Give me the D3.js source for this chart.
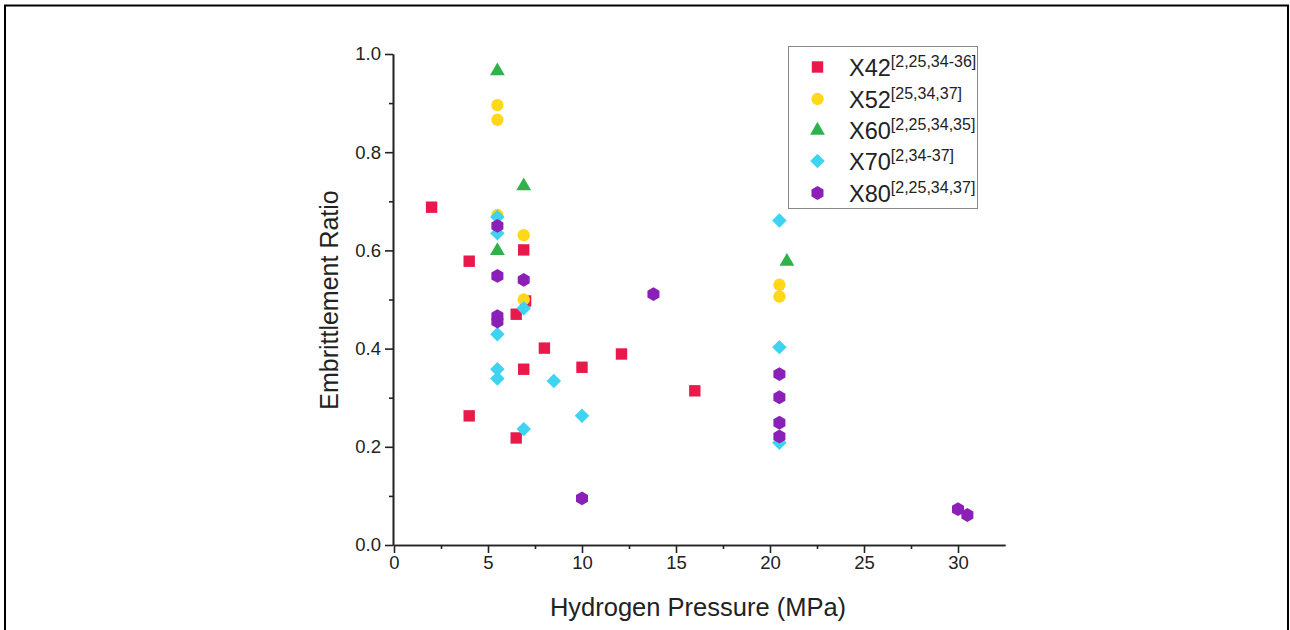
<!DOCTYPE html>
<html><head><meta charset="utf-8">
<script src="https://cdn.jsdelivr.net/npm/d3@7/dist/d3.min.js"></script>
<style>
html,body{margin:0;padding:0;background:#fff;}
svg{display:block;font-family:"Liberation Sans",Arial,sans-serif;}
</style></head>
<body>
<svg id="chart" width="1290" height="630"></svg>
<script>
// ---- data ----
const seriesNames = ["X42","X52","X60","X70","X80"];
const seriesRefs = ["[2,25,34-36]","[25,34,37]","[2,25,34,35]","[2,34-37]","[2,25,34,37]"];
const x42 = [[2.0,0.688],[4.0,0.578],[4.0,0.263],[6.9,0.601],[7.0,0.497],[6.5,0.470],[8.0,0.401],[6.9,0.358],[6.5,0.218],[10.0,0.362],[12.1,0.389],[16.0,0.314]];
const x52 = [[5.5,0.896],[5.5,0.866],[5.5,0.672],[6.9,0.631],[6.9,0.500],[20.5,0.530],[20.5,0.506]];
const x60 = [[5.5,0.967],[6.9,0.733],[5.5,0.601],[20.9,0.579]];
const x70 = [[5.5,0.668],[5.5,0.635],[6.9,0.482],[5.5,0.429],[5.5,0.358],[5.5,0.339],[8.5,0.334],[6.9,0.236],[10.0,0.263],[20.5,0.661],[20.5,0.403],[20.5,0.208]];
const x80 = [[5.5,0.650],[5.5,0.548],[6.9,0.540],[5.5,0.466],[5.5,0.455],[10.0,0.095],[13.8,0.511],[20.5,0.348],[20.5,0.301],[20.5,0.249],[20.5,0.221],[30.0,0.073],[30.5,0.061]];
const xTicks = [0,5,10,15,20,25,30];
const yTicks = [0.0,0.2,0.4,0.6,0.8,1.0];
const xTitle = "Hydrogen Pressure (MPa)";
const yTitle = "Embrittlement Ratio";

const seriesData = [x42,x52,x60,x70,x80];
const colors = ["#E8194B","#FFD81A","#2FB24C","#3DD3F1","#8B20B8"];

const svg = d3.select("#chart");
// outer frame
svg.append("rect").attr("x",5).attr("y",5.5).attr("width",1283).attr("height",640)
  .attr("fill","none").attr("stroke","#000").attr("stroke-width",2);

const x = d3.scaleLinear().domain([0,32.5]).range([394,1005]);
const y = d3.scaleLinear().domain([0,1]).range([545,54]);

const textColor = "#222";

// axes
const xAxis = d3.axisBottom(x).tickValues(xTicks).tickFormat(d3.format("d")).tickSize(8).tickSizeOuter(0).tickPadding(3);
const xMinor = d3.axisBottom(x).tickValues(d3.range(2.5,32.5,5)).tickFormat("").tickSize(4).tickSizeOuter(0);
const yAxis = d3.axisLeft(y).tickValues(yTicks).tickFormat(d3.format(".1f")).tickSize(8).tickSizeOuter(0).tickPadding(4);
const yMinor = d3.axisLeft(y).tickValues(d3.range(0.1,1.0,0.2)).tickFormat("").tickSize(4).tickSizeOuter(0);

function styleAxis(g){
  g.select(".domain").attr("stroke","#222").attr("stroke-width",1.6);
  g.selectAll(".tick line").attr("stroke","#222").attr("stroke-width",1.6);
  g.selectAll(".tick text").attr("fill",textColor).style("font-size","18.5px").style("font-family","'Liberation Sans',Arial,sans-serif");
}
svg.append("g").attr("transform","translate(0,545)").call(xMinor).call(styleAxis);
svg.append("g").attr("transform","translate(0,545)").call(xAxis).call(styleAxis);
svg.append("g").attr("transform","translate(393,0)").call(yMinor).call(styleAxis);
svg.append("g").attr("transform","translate(393,0)").call(yAxis).call(styleAxis);

svg.append("text").attr("x",698).attr("y",616).attr("text-anchor","middle")
  .attr("fill",textColor).style("font-size","25.5px").text(xTitle);
svg.append("text").attr("transform","translate(338,300) rotate(-90)").attr("text-anchor","middle")
  .attr("fill",textColor).style("font-size","25px").text(yTitle);

// marker shapes
const hexagon = {draw(ctx,size){const r=Math.sqrt(size/(1.5*Math.sqrt(3)));for(let i=0;i<6;i++){const a=Math.PI/2+i*Math.PI/3;const px=r*Math.cos(a),py=r*Math.sin(a);if(i===0)ctx.moveTo(px,py);else ctx.lineTo(px,py);}ctx.closePath();}};
const triUp = {draw(ctx,size){const s=Math.sqrt(size/(Math.sqrt(3)/4));const h=s*Math.sqrt(3)/2;ctx.moveTo(0,-h*0.6);ctx.lineTo(s/2,h*0.4);ctx.lineTo(-s/2,h*0.4);ctx.closePath();}};
const diamond = {draw(ctx,size){const r=Math.sqrt(size)/Math.SQRT2;ctx.moveTo(0,-r);ctx.lineTo(r,0);ctx.lineTo(0,r);ctx.lineTo(-r,0);ctx.closePath();}};
const shapes = [d3.symbolSquare,d3.symbolCircle,triUp,diamond,hexagon];
const sizes = [130,120,95,105,125];

seriesData.forEach((data,i)=>{
  const sym = d3.symbol().type(shapes[i]).size(sizes[i]);
  svg.append("g").selectAll("path").data(data).join("path")
    .attr("d",sym)
    .attr("transform",d=>`translate(${x(d[0])},${y(d[1])})`)
    .attr("fill",colors[i]);
});

// legend
const lg = svg.append("g");
lg.append("rect").attr("x",788.5).attr("y",46.5).attr("width",189).attr("height",162)
  .attr("fill","#fff").attr("stroke","#888").attr("stroke-width",1);
const rowY = [67,99,129.5,161,193];
seriesNames.forEach((n,i)=>{
  const sym = d3.symbol().type(shapes[i]).size(sizes[i]);
  lg.append("path").attr("d",sym).attr("transform",`translate(817.5,${rowY[i]})`).attr("fill",colors[i]);
  const t = lg.append("text").attr("x",849).attr("y",rowY[i]+9).attr("fill",textColor).style("font-size","23.5px");
  t.append("tspan").text(n);
  t.append("tspan").attr("dy",-9).style("font-size","16px").text(seriesRefs[i]);
});
</script>
</body></html>
